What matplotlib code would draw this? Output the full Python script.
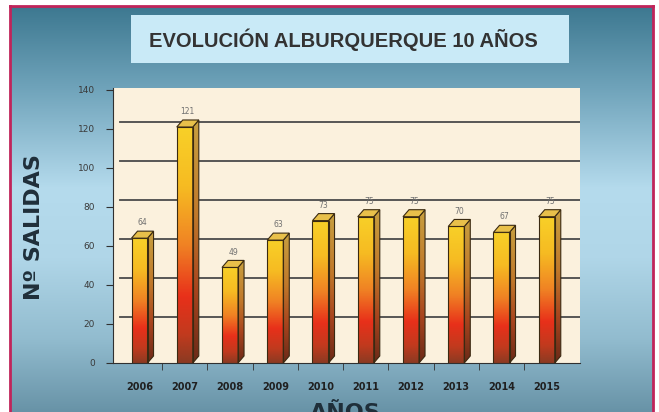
import numpy as np
import matplotlib.pyplot as plt
from matplotlib.colors import LinearSegmentedColormap
from matplotlib.patches import Rectangle, Polygon

years = ["2006", "2007", "2008", "2009", "2010", "2011", "2012", "2013", "2014", "2015"]
salidas = [64, 121, 49, 63, 73, 75, 75, 70, 67, 75]
yticks = [0, 20, 40, 60, 80, 100, 120, 140]

W, H = 659, 412
fig = plt.figure(figsize=(W / 100, H / 100), dpi=100)
fig.patch.set_facecolor("white")

# blue backdrop with crimson frame
bg_cmap = LinearSegmentedColormap.from_list(
    "bg", [(0.0, "#3d7890"), (0.2, "#6fa3ba"), (0.45, "#b5dbed"),
           (0.62, "#b0d6e8"), (0.82, "#92bccf"), (1.0, "#6893a7")])
bg = fig.add_axes([10 / W, 0, 643 / W, 406 / H])
bg.imshow(np.linspace(0, 1, 256)[:, None], cmap=bg_cmap, aspect="auto",
          extent=(0, 1, 0, 1), origin="upper")
bg.set_xticks([]); bg.set_yticks([])
for side in ["left", "top", "right"]:
    bg.spines[side].set_color("#c0245a")
    bg.spines[side].set_linewidth(2)
bg.spines["bottom"].set_visible(False)

# title box
fig.add_artist(Rectangle((131 / W, 1 - 63 / H), 438 / W, 48 / H,
                         transform=fig.transFigure, facecolor="#c9eaf7", edgecolor="none"))
fig.text(343 / W, 1 - 40 / H, "EVOLUCIÓN ALBURQUERQUE 10 AÑOS", ha="center", va="center",
         fontsize=14.5, fontweight="bold", color="#333333", family="Liberation Sans")

ax = fig.add_axes([113 / W, 49 / H, 467 / W, 275 / H])
ax.set_facecolor("#fbf1dd")

bw, dx, dy = 0.354, 0.133, 3.6

# back-wall gridlines
for v in yticks[1:-1]:
    ax.plot([-0.43, 9.735], [v + dy, v + dy], color="#4a4a4a", lw=1.3, zorder=1)

bar_cmap = LinearSegmentedColormap.from_list(
    "bar", [(0.0, "#8c3a22"), (0.12, "#c23a1e"), (0.28, "#e8301a"),
            (0.5, "#f08224"), (0.75, "#f6bb22"), (1.0, "#f8d028")])
side_cmap = LinearSegmentedColormap.from_list(
    "side", [(0.0, "#6a2a18"), (0.3, "#a8441e"), (0.6, "#c0782a"), (1.0, "#c8a040")])

x = np.arange(len(years))
bars = ax.bar(x, salidas, width=bw, color="none", edgecolor="#3a2a12", linewidth=0.8, zorder=4)
grad = np.linspace(0, 1, 200)[:, None]
for rect, v in zip(bars, salidas):
    x0 = rect.get_x()
    x1 = x0 + rect.get_width()
    ax.imshow(grad, cmap=bar_cmap, aspect="auto", extent=(x0, x1, 0, v),
              origin="lower", zorder=3)
    side = Polygon([(x1, 0), (x1 + dx, dy), (x1 + dx, v + dy), (x1, v)],
                   closed=True, facecolor="none", edgecolor="#3a2a12", lw=0.8, zorder=4)
    ax.add_patch(side)
    img = ax.imshow(grad, cmap=side_cmap, aspect="auto", extent=(x1, x1 + dx, 0, v + dy),
                    origin="lower", zorder=3)
    img.set_clip_path(side)
    ax.add_patch(Polygon([(x0, v), (x0 + dx, v + dy), (x1 + dx, v + dy), (x1, v)],
                         closed=True, facecolor="#e8c04a", edgecolor="#3a2a12", lw=0.8, zorder=4))
    ax.text((x0 + x1 + dx) / 2, v + dy + 2, str(v), ha="center", va="bottom",
            fontsize=5.5, color="#707070", zorder=5)

ax.set_ylim(0, 141)
ax.set_xlim(-0.586, 9.735)

ax.set_yticks(yticks)
ax.tick_params(axis="y", direction="out", length=5, color="#303030", pad=8,
               labelsize=6.5, labelcolor="#3a3a3a")
ax.set_xticks(x)
ax.set_xticklabels(years, fontsize=7, fontweight="bold", color="#202020")
ax.set_xticks(x[:-1] + 0.5, minor=True)
ax.tick_params(axis="x", which="major", length=0, pad=14)
ax.tick_params(axis="x", which="minor", direction="out", length=5, color="#303030")
for s in ["top", "right"]:
    ax.spines[s].set_visible(False)
ax.spines["left"].set_color("#303030")
ax.spines["bottom"].set_color("#303030")

fig.text(34 / W, 1 - 227 / H, "Nº SALIDAS", rotation=90, ha="center", va="center",
         fontsize=16, fontweight="bold", color="#1f2f3a")
fig.text(345 / W, 1 - 419 / H, "AÑOS", ha="center", va="baseline",
         fontsize=16, fontweight="bold", color="#1f2f3a")

fig.savefig("out.png", dpi=100)
